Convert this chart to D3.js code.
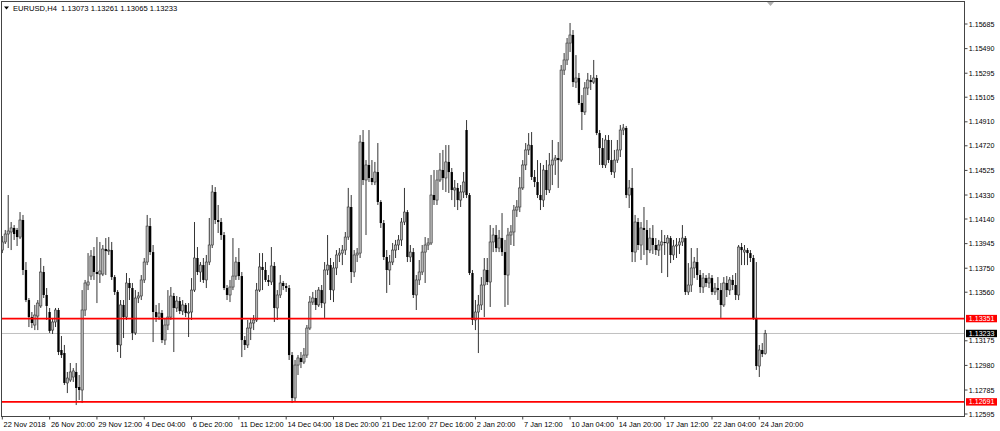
<!DOCTYPE html>
<html><head><meta charset="utf-8">
<script src="https://cdn.jsdelivr.net/npm/d3@7"></script>
<style>html,body{margin:0;padding:0;background:#fff;}svg{display:block;font-family:"Liberation Sans",Arial,sans-serif;}</style>
</head><body><svg id="c" width="1000" height="431"></svg>
<script>
const symbolTitle = "EURUSD,H4";
const lastQuote = ["1.13073","1.13261","1.13065","1.13233"];

const opens = [
1.13894,1.13958,1.14021,1.14037,1.14069,1.14053,1.13997,1.14132,1.13736,1.13498,
1.13363,1.13300,1.13371,1.13451,1.13720,1.13538,1.13403,1.13260,1.13324,1.13419,
1.13102,1.13078,1.12841,1.12864,1.12888,1.12928,1.12809,1.12785,1.13419,1.13617,
1.13688,1.13847,1.13720,1.13704,1.13704,1.13902,1.13886,1.13894,1.13680,1.13562,
1.13142,1.13459,1.13363,1.13633,1.13593,1.13237,1.13514,1.13530,1.13657,1.13799,
1.14084,1.13878,1.13403,1.13363,1.13395,1.13181,1.13300,1.13363,1.13530,1.13435,
1.13490,1.13411,1.13459,1.13395,1.13403,1.13577,1.13831,1.13720,1.13775,1.13657,
1.13799,1.13934,1.14354,1.14132,1.14116,1.14013,1.13593,1.13538,1.13601,1.13688,
1.13799,1.13688,1.13181,1.13142,1.13276,1.13316,1.13340,1.13577,1.13760,1.13736,
1.13657,1.13641,1.13768,1.13435,1.13538,1.13633,1.13609,1.13593,1.13062,1.12722,
1.12983,1.13039,1.13007,1.13062,1.13276,1.13482,1.13514,1.13459,1.13577,1.13474,
1.13736,1.13775,1.13577,1.13752,1.13855,1.13870,1.13894,1.13997,1.14235,1.13720,
1.13855,1.13870,1.14750,1.14449,1.14568,1.14465,1.14433,1.14512,1.14275,1.14108,
1.13839,1.13736,1.13799,1.13894,1.13934,1.13974,1.14116,1.14195,1.13839,1.13878,
1.13538,1.13657,1.13720,1.13878,1.13934,1.13950,1.14330,1.14290,1.14449,1.14528,
1.14465,1.14592,1.14512,1.14370,1.14386,1.14290,1.14354,1.14845,1.14330,1.13712,
1.13340,1.13403,1.13459,1.13617,1.13736,1.13641,1.13958,1.14013,1.13910,1.13989,
1.13878,1.13696,1.14013,1.14037,1.14211,1.14235,1.14386,1.14568,1.14687,1.14726,
1.14473,1.14433,1.14330,1.14290,1.14528,1.14370,1.14568,1.14607,1.14623,1.14607,
1.15320,1.15400,1.15534,1.15598,1.15225,1.15257,1.15059,1.14988,1.15178,1.15241,
1.15225,1.15257,1.14821,1.14702,1.14568,1.14766,1.14607,1.14512,1.14607,1.14687,
1.14845,1.14861,1.14330,1.14386,1.13878,1.14116,1.13934,1.14069,1.14053,1.13894,
1.13989,1.13934,1.13894,1.13934,1.13958,1.13950,1.13989,1.13855,1.13926,1.13934,
1.13958,1.13989,1.13562,1.13617,1.13752,1.13799,1.13696,1.13601,1.13672,1.13633,
1.13672,1.13562,1.13593,1.13577,1.13459,1.13633,1.13577,1.13657,1.13617,1.13538,
1.13918,1.13878,1.13894,1.13870,1.13831,1.13356,1.12975,1.13102,1.13073];

const highs = [
1.14005,1.14053,1.14330,1.14116,1.14092,1.14069,1.14195,1.14172,1.13799,1.13514,
1.13403,1.13459,1.13498,1.13831,1.13768,1.13593,1.13435,1.13356,1.13435,1.13435,
1.13213,1.13142,1.12928,1.12999,1.12959,1.12999,1.12904,1.13577,1.13657,1.13870,
1.13894,1.13918,1.13997,1.13958,1.13934,1.13989,1.13997,1.13958,1.13696,1.13577,
1.13498,1.13498,1.13712,1.13672,1.13633,1.13577,1.13562,1.13696,1.13831,1.14172,
1.14148,1.13934,1.13459,1.13474,1.13419,1.13356,1.13577,1.13601,1.13554,1.13530,
1.13522,1.13498,1.13474,1.13474,1.13672,1.14116,1.13918,1.13799,1.13831,1.13855,
1.14148,1.14409,1.14393,1.14251,1.14148,1.14037,1.13617,1.13657,1.13989,1.13839,
1.13910,1.13720,1.13213,1.13340,1.13356,1.13379,1.13633,1.13870,1.13870,1.13799,
1.13696,1.13918,1.13799,1.13577,1.13696,1.13649,1.13633,1.13617,1.13086,1.13023,
1.13062,1.13086,1.13118,1.13300,1.13530,1.13562,1.13577,1.13601,1.13617,1.13799,
1.14013,1.13831,1.13799,1.13894,1.13910,1.13934,1.14037,1.14386,1.14330,1.13894,
1.13910,1.14805,1.14845,1.14607,1.14845,1.14607,1.14592,1.14742,1.14290,1.14132,
1.13894,1.13855,1.13950,1.13974,1.14013,1.14148,1.14386,1.14211,1.13934,1.13910,
1.13696,1.13815,1.13934,1.13997,1.13989,1.14489,1.14528,1.14528,1.14663,1.14687,
1.14726,1.14726,1.14544,1.14449,1.14425,1.14409,1.14512,1.14924,1.14346,1.13736,
1.13498,1.13538,1.13680,1.13831,1.13831,1.14092,1.14069,1.14092,1.14053,1.14187,
1.13974,1.14069,1.14092,1.14251,1.14290,1.14473,1.14607,1.14742,1.14821,1.14829,
1.14528,1.14607,1.14584,1.14568,1.14607,1.14663,1.14766,1.14647,1.14750,1.15360,
1.15455,1.15574,1.15693,1.15637,1.15439,1.15297,1.15122,1.15225,1.15297,1.15281,
1.15400,1.15281,1.14845,1.14782,1.14805,1.14805,1.14766,1.14687,1.14766,1.14885,
1.14893,1.14877,1.14449,1.14544,1.14172,1.14148,1.14116,1.14235,1.14132,1.14069,
1.14092,1.13989,1.13974,1.14053,1.14013,1.14013,1.14005,1.13974,1.13989,1.13989,
1.14092,1.14005,1.13791,1.13910,1.13839,1.13910,1.13736,1.13712,1.13696,1.13712,
1.13696,1.13633,1.13680,1.13633,1.13680,1.13688,1.13680,1.13696,1.13712,1.13934,
1.13950,1.13934,1.13910,1.13894,1.13855,1.13799,1.13142,1.13157,1.13261];

const lows = [
1.13870,1.13942,1.13910,1.13894,1.13974,1.13926,1.13981,1.13696,1.13482,1.13284,
1.13276,1.13260,1.13260,1.13435,1.13514,1.13340,1.13237,1.13229,1.13284,1.13062,
1.13039,1.12825,1.12761,1.12849,1.12849,1.12666,1.12706,1.12682,1.13371,1.13577,
1.13657,1.13657,1.13474,1.13633,1.13688,1.13696,1.13855,1.13657,1.13538,1.13086,
1.13039,1.13197,1.13340,1.13498,1.13181,1.13221,1.13474,1.13498,1.13633,1.13775,
1.13855,1.13165,1.13324,1.13340,1.13157,1.13142,1.13260,1.13340,1.13086,1.13403,
1.13387,1.13379,1.13363,1.13205,1.13340,1.13562,1.13696,1.13641,1.13633,1.13593,
1.13775,1.13910,1.14100,1.14029,1.13974,1.13577,1.13498,1.13482,1.13577,1.13657,
1.13657,1.13046,1.13102,1.13118,1.13181,1.13260,1.13324,1.13562,1.13577,1.13641,
1.13609,1.13617,1.13324,1.13340,1.13514,1.13577,1.13562,1.13023,1.12682,1.12690,
1.12904,1.12959,1.12991,1.13039,1.13260,1.13459,1.13419,1.13443,1.13435,1.13356,
1.13696,1.13498,1.13482,1.13696,1.13799,1.13775,1.13855,1.13974,1.13633,1.13680,
1.13799,1.13831,1.14409,1.14013,1.14433,1.14409,1.14409,1.14251,1.14069,1.13815,
1.13554,1.13617,1.13775,1.13831,1.13894,1.13926,1.14092,1.13799,1.13799,1.13514,
1.13419,1.13617,1.13696,1.13633,1.13894,1.13934,1.14251,1.14251,1.14433,1.14370,
1.14354,1.14346,1.14290,1.14235,1.14211,1.14235,1.14306,1.14306,1.13696,1.13300,
1.13260,1.13078,1.13419,1.13363,1.13617,1.13443,1.13878,1.13878,1.13878,1.13847,
1.13443,1.13459,1.13934,1.13926,1.14156,1.14195,1.14370,1.14528,1.14647,1.14449,
1.14393,1.14306,1.14211,1.14235,1.14330,1.14346,1.14409,1.14489,1.14386,1.14592,
1.15281,1.15360,1.15463,1.15186,1.15178,1.15043,1.14845,1.14964,1.15122,1.15162,
1.15210,1.14805,1.14568,1.14544,1.14544,1.14584,1.14489,1.14465,1.14584,1.14631,
1.14805,1.14306,1.14227,1.13799,1.13799,1.13894,1.13815,1.13855,1.13775,1.13870,
1.13863,1.13855,1.13847,1.13712,1.13855,1.13680,1.13791,1.13815,1.13831,1.13863,
1.13926,1.13538,1.13538,1.13562,1.13672,1.13657,1.13554,1.13554,1.13601,1.13593,
1.13538,1.13538,1.13498,1.13356,1.13443,1.13522,1.13538,1.13577,1.13498,1.13498,
1.13775,1.13775,1.13775,1.13799,1.13340,1.12944,1.12888,1.13046,1.13065];

const closes = [
1.13958,1.14021,1.14045,1.14069,1.14021,1.13997,1.14132,1.13736,1.13498,1.13363,
1.13316,1.13379,1.13474,1.13720,1.13538,1.13451,1.13253,1.13324,1.13419,1.13086,
1.13062,1.12841,1.12880,1.12928,1.12936,1.12801,1.12785,1.13419,1.13633,1.13641,
1.13847,1.13720,1.13704,1.13728,1.13902,1.13886,1.13894,1.13680,1.13562,1.13142,
1.13459,1.13363,1.13633,1.13593,1.13237,1.13514,1.13530,1.13657,1.13799,1.14084,
1.13878,1.13403,1.13363,1.13395,1.13181,1.13300,1.13363,1.13530,1.13435,1.13490,
1.13411,1.13459,1.13395,1.13403,1.13577,1.13831,1.13720,1.13775,1.13657,1.13799,
1.13934,1.14354,1.14132,1.14116,1.14013,1.13593,1.13538,1.13601,1.13688,1.13799,
1.13688,1.13181,1.13142,1.13276,1.13316,1.13340,1.13577,1.13760,1.13736,1.13657,
1.13641,1.13768,1.13435,1.13538,1.13633,1.13609,1.13593,1.13062,1.12722,1.12983,
1.13039,1.13007,1.13062,1.13276,1.13482,1.13514,1.13459,1.13577,1.13474,1.13736,
1.13775,1.13577,1.13752,1.13855,1.13870,1.13894,1.13997,1.14235,1.13720,1.13855,
1.13870,1.14750,1.14449,1.14568,1.14465,1.14433,1.14512,1.14275,1.14108,1.13839,
1.13736,1.13799,1.13894,1.13934,1.13974,1.14116,1.14195,1.13839,1.13878,1.13538,
1.13657,1.13720,1.13878,1.13934,1.13950,1.14330,1.14290,1.14449,1.14528,1.14465,
1.14592,1.14512,1.14370,1.14386,1.14290,1.14354,1.14433,1.14330,1.13712,1.13340,
1.13403,1.13459,1.13617,1.13736,1.13641,1.13958,1.14013,1.13910,1.13989,1.13878,
1.13696,1.14013,1.14037,1.14211,1.14235,1.14386,1.14568,1.14687,1.14726,1.14473,
1.14433,1.14330,1.14290,1.14528,1.14370,1.14568,1.14607,1.14623,1.14607,1.15320,
1.15400,1.15534,1.15598,1.15225,1.15257,1.15059,1.14988,1.15178,1.15241,1.15225,
1.15257,1.14821,1.14702,1.14568,1.14766,1.14607,1.14512,1.14607,1.14687,1.14845,
1.14861,1.14330,1.14386,1.13878,1.14116,1.13934,1.14069,1.14053,1.13894,1.13989,
1.13934,1.13894,1.13934,1.13958,1.13950,1.13989,1.13855,1.13926,1.13934,1.13958,
1.13989,1.13562,1.13617,1.13752,1.13799,1.13696,1.13601,1.13672,1.13633,1.13672,
1.13562,1.13593,1.13577,1.13459,1.13633,1.13577,1.13657,1.13617,1.13538,1.13918,
1.13894,1.13894,1.13870,1.13831,1.13356,1.12975,1.13102,1.13070,1.13233];

const xTickBars = [0,16,32,48,64,80,96,112,128,144,160,176,192,208,224,240,256];
const xTickLabels = ["22 Nov 2018","26 Nov 20:00","29 Nov 12:00","4 Dec 04:00","6 Dec 20:00","11 Dec 12:00","14 Dec 04:00","18 Dec 20:00","21 Dec 12:00","27 Dec 16:00","2 Jan 20:00","7 Jan 12:00","10 Jan 04:00","14 Jan 20:00","17 Jan 12:00","22 Jan 04:00","24 Jan 20:00"];
const yTickLabels = ["1.15685","1.15490","1.15295","1.15105","1.14910","1.14720","1.14525","1.14330","1.14140","1.13945","1.13750","1.13560","1.13175","1.12980","1.12785","1.12595"];
const levelLines = [1.13351, 1.12691];
const bidPrice = 1.13233;

const svg = d3.select("#c");
const L = 1.5, T = 1.5, R = 964.5, B = 416.5;
const x = d3.scaleLinear().domain([0, 256]).range([2.3, 759.3]);
const y = d3.scaleLinear().domain([1.12595, 1.15685]).range([414, 24]);

svg.append("defs").append("clipPath").attr("id","pc")
  .append("rect").attr("x",L).attr("y",T).attr("width",R-L).attr("height",B-T);

const plot = svg.append("g").attr("clip-path","url(#pc)");

plot.append("line").attr("x1",L).attr("x2",R).attr("y1",y(bidPrice)).attr("y2",y(bidPrice))
  .attr("stroke","#c0c0c0").attr("stroke-width",1);

const bars = d3.range(opens.length).map(i => ({i, o:opens[i], h:highs[i], l:lows[i], c:closes[i]}));
const bw = 2.3;
const g = plot.append("g");
g.selectAll("line.w").data(bars).join("line").attr("class","w")
  .attr("x1",d=>x(d.i)).attr("x2",d=>x(d.i))
  .attr("y1",d=>y(d.h)).attr("y2",d=>y(d.l))
  .attr("stroke","#111").attr("stroke-width",0.85);
g.selectAll("rect.b").data(bars).join("rect").attr("class","b")
  .attr("x",d=>x(d.i)-bw/2).attr("width",bw)
  .attr("y",d=>Math.min(y(d.o),y(d.c)))
  .attr("height",d=>Math.max(0.8,Math.abs(y(d.o)-y(d.c))))
  .attr("fill",d=>d.c>=d.o?"#b4b4b4":"#000")
  .attr("stroke",d=>d.c>=d.o?"#333":"none")
  .attr("stroke-width",0.6);

plot.selectAll("line.lv").data(levelLines).join("line").attr("class","lv")
  .attr("x1",L).attr("x2",R).attr("y1",d=>y(d)).attr("y2",d=>y(d))
  .attr("stroke","#ff0000").attr("stroke-width",1.7);

svg.append("rect").attr("x",L).attr("y",T).attr("width",R-L).attr("height",B-T)
  .attr("fill","none").attr("stroke","#444").attr("stroke-width",1);

const ya = svg.append("g");
ya.selectAll("line").data(yTickLabels).join("line")
  .attr("x1",R).attr("x2",R+3).attr("y1",d=>y(+d)).attr("y2",d=>y(+d))
  .attr("stroke","#444").attr("stroke-width",1);
ya.selectAll("text").data(yTickLabels).join("text")
  .attr("x",R+4.3).attr("y",d=>y(+d)+2.6).attr("font-size",7.1).attr("fill","#000").text(d=>d);

function priceBox(v, bg){
  const yy = y(v);
  svg.append("rect").attr("x",R+1.5).attr("y",yy-3.7).attr("width",31).attr("height",7.4).attr("fill",bg);
  svg.append("text").attr("x",R+4.3).attr("y",yy+2.6).attr("font-size",7.1).attr("fill","#fff").text(v.toFixed(5));
}
levelLines.forEach(v=>priceBox(v,"#ff0000"));
priceBox(bidPrice,"#000");

const xa = svg.append("g");
xa.selectAll("line").data(xTickBars).join("line")
  .attr("x1",d=>x(d)).attr("x2",d=>x(d)).attr("y1",B).attr("y2",B+3)
  .attr("stroke","#444").attr("stroke-width",1);
xa.selectAll("text").data(xTickBars).join("text")
  .attr("x",d=>x(d)+1.3).attr("y",427).attr("font-size",7.4).attr("fill","#000")
  .text((d,k)=>xTickLabels[k]);

svg.append("path").attr("d","M4,6.5 L9,6.5 L6.5,9.5 Z").attr("fill","#000");
svg.append("text").attr("x",13).attr("y",10.5).attr("font-size",7.6).attr("fill","#000")
  .attr("xml:space","preserve").text(symbolTitle + "  " + lastQuote.join(" "));
svg.append("path").attr("d","M767,2 L774,2 L770.5,6 Z").attr("fill","#b0b0b0");
</script></body></html>
